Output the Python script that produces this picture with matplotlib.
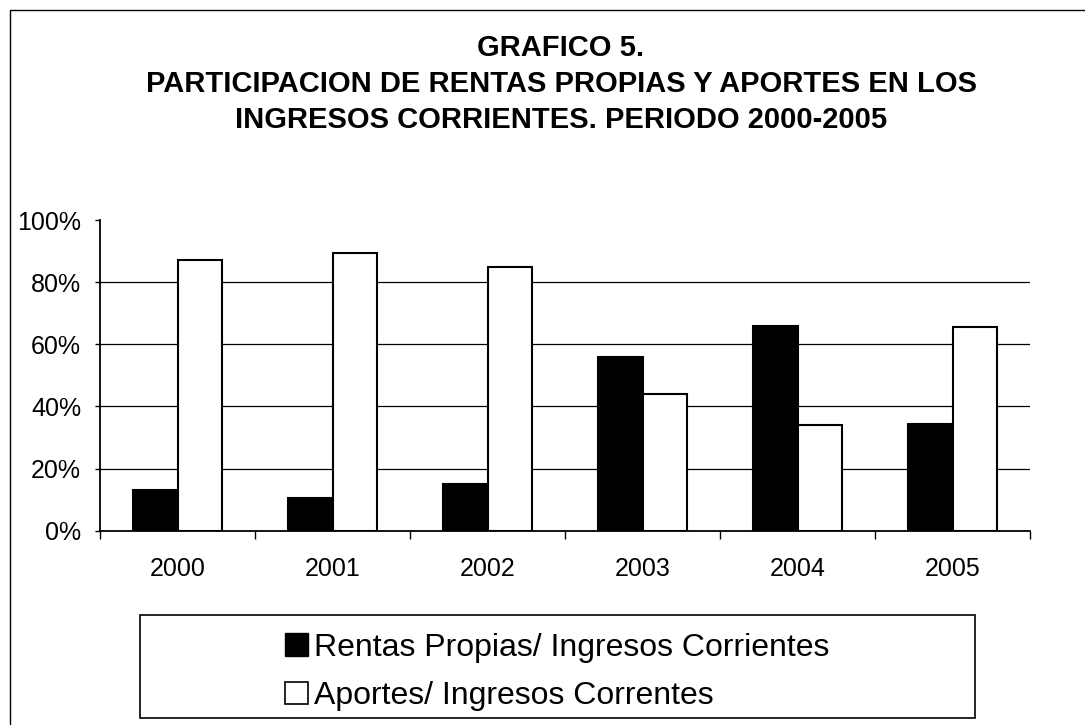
import matplotlib
matplotlib.use("Agg")
import matplotlib.pyplot as plt
from matplotlib.patches import Rectangle, Patch
from matplotlib.ticker import FixedLocator, PercentFormatter
import numpy as np

# datos (porcentajes)
anios = ["2000", "2001", "2002", "2003", "2004", "2005"]
rentas_propias = [13.0, 10.6, 15.0, 56.0, 66.0, 34.5]
aportes = [87.0, 89.4, 85.0, 44.0, 34.0, 65.5]
etiquetas = ["Rentas Propias/ Ingresos Corrientes", "Aportes/ Ingresos Correntes"]
titulo = ("GRAFICO 5.\n"
          "PARTICIPACION DE RENTAS PROPIAS Y APORTES EN LOS\n"
          "INGRESOS CORRIENTES. PERIODO 2000-2005")

plt.rcParams['font.family'] = ['Liberation Sans', 'DejaVu Sans']

W, H = 1085, 725
fig = plt.figure(figsize=(W / 100, H / 100), dpi=100)
fig.patch.set_facecolor("white")

# area del grafico en pixeles
x0, x1, y_top, y_bot = 100, 1030, 220, 530.7
ax = fig.add_axes([x0 / W, 1 - y_bot / H, (x1 - x0) / W, (y_bot - y_top) / H])

x = np.arange(len(anios))
ancho = 0.285
ax.bar(x - ancho / 2, rentas_propias, ancho, color="black", edgecolor="black",
       linewidth=1.5, zorder=3)
ax.bar(x + ancho / 2, aportes, ancho, color="white", edgecolor="black",
       linewidth=1.5, zorder=3)

# ejes
ax.set_xlim(-0.5, len(anios) - 0.5)
ax.set_ylim(0, 100)
ax.set_yticks(np.arange(0, 101, 20))
ax.yaxis.set_major_formatter(PercentFormatter(decimals=0))
ax.set_xticks(x)
ax.set_xticklabels(anios)
ax.xaxis.set_minor_locator(FixedLocator(np.arange(-0.5, len(anios), 1.0)))
ax.tick_params(axis="x", which="major", length=0, pad=19, labelsize=18)
ax.tick_params(axis="x", which="minor", length=6, width=1, direction="out")
ax.tick_params(axis="y", length=3.6, width=1, direction="out", pad=10, labelsize=18)

for v in [20, 40, 60, 80]:
    ax.axhline(v, color="black", lw=0.9, zorder=1)

for lado in ["top", "right"]:
    ax.spines[lado].set_visible(False)
ax.spines["left"].set_linewidth(1.3)
ax.spines["bottom"].set_linewidth(1.3)

# titulo
fig.text(561 / W, 1 - 84 / H, titulo, ha="center", va="center",
         fontsize=21, fontweight="bold", linespacing=1.38)

# marco exterior (solo visibles izquierda y arriba)
fig.patches.append(Rectangle((10 / W, -0.05), 1.1, 1 - 10 / H + 0.05,
                             transform=fig.transFigure, fill=False,
                             edgecolor="black", lw=1.0))

# leyenda
fig.patches.append(Rectangle((140 / W, 1 - 718 / H), (975 - 140) / W, (718 - 615) / H,
                             transform=fig.transFigure, fill=False,
                             edgecolor="black", lw=1.2))
handles = [Patch(facecolor="black", edgecolor="black"),
           Patch(facecolor="white", edgecolor="black", lw=1.2)]
fig.legend(handles, etiquetas, loc="center", bbox_to_anchor=(557 / W, 1 - 672 / H),
           frameon=False, fontsize=23, handlelength=0.72, handleheight=0.72,
           handletextpad=0.2, labelspacing=0.57, borderpad=0)

fig.savefig("out.png", dpi=100)
